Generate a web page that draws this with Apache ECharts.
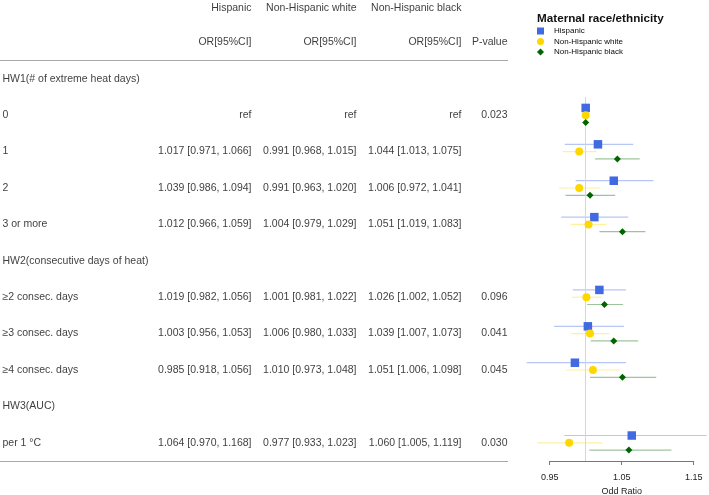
<!DOCTYPE html>
<html><head><meta charset="utf-8">
<script src="https://cdn.jsdelivr.net/npm/echarts@6/dist/echarts.min.js"></script>
<style>html,body{margin:0;padding:0;background:#fff}#c{width:709px;height:495px}</style>
</head><body><div id="c"></div>
<script>
// ---------- data ----------
const rowLabels = ["HW1(# of extreme heat days)", "0", "1", "2", "3 or more",
  "HW2(consecutive days of heat)", "\u22652 consec. days", "\u22653 consec. days", "\u22654 consec. days",
  "HW3(AUC)", "per 1 \u00b0C"];
const groups = ["Hispanic", "Non-Hispanic white", "Non-Hispanic black"];
const hispanicOR = [null, 1, 1.017, 1.039, 1.012, null, 1.019, 1.003, 0.985, null, 1.064];
const hispanicLo = [null, null, 0.971, 0.986, 0.966, null, 0.982, 0.956, 0.918, null, 0.970];
const hispanicHi = [null, null, 1.066, 1.094, 1.059, null, 1.056, 1.053, 1.056, null, 1.168];
const whiteOR = [null, 1, 0.991, 0.991, 1.004, null, 1.001, 1.006, 1.010, null, 0.977];
const whiteLo = [null, null, 0.968, 0.963, 0.979, null, 0.981, 0.980, 0.973, null, 0.933];
const whiteHi = [null, null, 1.015, 1.020, 1.029, null, 1.022, 1.033, 1.048, null, 1.023];
const blackOR = [null, 1, 1.044, 1.006, 1.051, null, 1.026, 1.039, 1.051, null, 1.060];
const blackLo = [null, null, 1.013, 0.972, 1.019, null, 1.002, 1.007, 1.006, null, 1.005];
const blackHi = [null, null, 1.075, 1.041, 1.083, null, 1.052, 1.073, 1.098, null, 1.119];
const pValues = ["", "0.023", "", "", "", "", "0.096", "0.041", "0.045", "", "0.030"];
const xTickValues = [0.95, 1.05, 1.15];
const colHeader = "OR[95%CI]";
const pHeader = "P-value";
const legendTitle = "Maternal race/ethnicity";
const axisName = "Odd Ratio";

// ---------- styling / layout ----------
const FONT = '"Liberation Sans", Arial, Helvetica, sans-serif';
const TEXT = '#0a0a0a';
const COLORS = ['#4169E1', '#FFD700', '#006400'];
const CI_COLORS = ['rgba(65,105,225,0.38)', 'rgba(255,215,0,0.38)', 'rgba(0,100,0,0.38)'];
const SYMBOLS = ['rect', 'circle', 'diamond'];
const SYM_SIZE = [8.5, 8, 7];
const OFFSETS = [-0.2, 0, 0.2];
const COL_RIGHT = [252, 357, 462];
const P_RIGHT = 508;
const LABEL_LEFT = 2;
const HEADER_ROWS = [-1.94, -1];
const Y_MIN = -2.165, Y_MAX = 10.5;

const ORs = [hispanicOR, whiteOR, blackOR];
const LOs = [hispanicLo, whiteLo, blackLo];
const HIs = [hispanicHi, whiteHi, blackHi];

// ---------- table cells ----------
function cell(x, r, text, align) {
  return { value: [x, r], label: { formatter: text, position: align === 'left' ? 'right' : 'left' } };
}
const cells = [];
groups.forEach((g, i) => cells.push(cell(COL_RIGHT[i], HEADER_ROWS[0], g)));
groups.forEach((g, i) => cells.push(cell(COL_RIGHT[i], HEADER_ROWS[1], colHeader)));
cells.push(cell(P_RIGHT, HEADER_ROWS[1], pHeader));
rowLabels.forEach((lab, r) => {
  cells.push(cell(LABEL_LEFT, r, lab, 'left'));
  for (let g = 0; g < 3; g++) {
    const o = ORs[g][r];
    if (o == null) continue;
    const lo = LOs[g][r], hi = HIs[g][r];
    const t = lo == null ? 'ref' : o.toFixed(3) + ' [' + lo.toFixed(3) + ', ' + hi.toFixed(3) + ']';
    cells.push(cell(COL_RIGHT[g], r, t));
  }
  if (pValues[r]) cells.push(cell(P_RIGHT, r, pValues[r]));
});

// ---------- forest series ----------
const series = [];
for (let g = 0; g < 3; g++) {
  const ci = [];
  const pts = [];
  ORs[g].forEach((o, r) => {
    if (o == null) return;
    pts.push([o, r + OFFSETS[g]]);
    if (LOs[g][r] != null) ci.push([LOs[g][r], HIs[g][r], r + OFFSETS[g]]);
  });
  const col = CI_COLORS[g];
  series.push({
    type: 'custom', name: 'ci' + g, xAxisIndex: 0, yAxisIndex: 0, clip: false, silent: true, z: 2,
    encode: { x: [0, 1], y: 2 },
    data: ci,
    renderItem: function (params, api) {
      const a = api.coord([api.value(0), api.value(2)]);
      const b = api.coord([api.value(1), api.value(2)]);
      return { type: 'line', shape: { x1: a[0], y1: a[1], x2: b[0], y2: b[1] },
        style: { stroke: col, lineWidth: 1.2 } };
    }
  });
  series.push({
    type: 'scatter', name: groups[g], xAxisIndex: 0, yAxisIndex: 0, clip: false, silent: true, z: 5,
    symbol: SYMBOLS[g], symbolSize: SYM_SIZE[g],
    itemStyle: { color: COLORS[g], opacity: 1 },
    data: pts
  });
}
// reference line at OR = 1
series.push({
  type: 'scatter', name: 'refline', xAxisIndex: 0, yAxisIndex: 0, data: [], silent: true,
  markLine: {
    silent: true, symbol: 'none', animation: false, label: { show: false },
    lineStyle: { color: '#d6d6d6', width: 1, type: 'solid' },
    data: [[{ coord: [1, 0.5] }, { coord: [1, Y_MAX] }]]
  }
});
// table
series.push({
  type: 'scatter', name: 'table', xAxisIndex: 1, yAxisIndex: 1, silent: true, symbolSize: 1,
  itemStyle: { color: 'rgba(0,0,0,0)' },
  label: { show: true, distance: 0, color: TEXT, fontSize: 10.5, fontFamily: FONT },
  labelLayout: { hideOverlap: false },
  data: cells,
  markLine: {
    silent: true, symbol: 'none', animation: false, label: { show: false },
    lineStyle: { color: '#a8a8a8', width: 1, type: 'solid' },
    data: [
      [{ coord: [0, -0.5] }, { coord: [P_RIGHT, -0.5] }],
      [{ coord: [0, Y_MAX] }, { coord: [P_RIGHT, Y_MAX] }]
    ]
  }
});

const option = {
  animation: false,
  backgroundColor: '#fff',
  textStyle: { fontFamily: FONT },
  title: {
    text: legendTitle, left: 537, top: 13, padding: 0,
    textStyle: { fontSize: 11.7, fontWeight: 'bold', color: '#111', fontFamily: FONT }
  },
  legend: {
    orient: 'vertical', left: 537, top: 27, padding: 0, itemGap: 2.5,
    itemWidth: 7, itemHeight: 7, selectedMode: false,
    textStyle: { fontSize: 8, color: TEXT, fontFamily: FONT, padding: [0, 0, 0, 5] },
    data: groups.map((g, i) => ({ name: g, icon: SYMBOLS[i], itemStyle: { color: COLORS[i] } }))
  },
  grid: [
    { left: 549.7, right: 15.3, top: 0, bottom: 34, outerBoundsMode: 'none' },
    { left: 0, right: 0, top: 0, bottom: 34, outerBoundsMode: 'none' }
  ],
  xAxis: [
    {
      type: 'value', gridIndex: 0, min: xTickValues[0], max: xTickValues[xTickValues.length - 1], interval: 0.1,
      splitLine: { show: false },
      axisLine: { show: true, onZero: false, lineStyle: { color: '#777', width: 1 } },
      axisTick: { show: true, length: 4, lineStyle: { color: '#777' } },
      axisLabel: { fontSize: 9, color: '#222', margin: 12, fontFamily: FONT,
        formatter: v => v.toFixed(2) },
      name: axisName, nameLocation: 'middle', nameGap: 21.5,
      nameTextStyle: { fontSize: 9, color: '#222', fontFamily: FONT }
    },
    { type: 'value', gridIndex: 1, min: 0, max: 709, show: false }
  ],
  yAxis: [
    { type: 'value', gridIndex: 0, min: Y_MIN, max: Y_MAX, inverse: true, show: false },
    { type: 'value', gridIndex: 1, min: Y_MIN, max: Y_MAX, inverse: true, show: false }
  ],
  series: series
};
const chart = echarts.init(document.getElementById('c'), null, { renderer: 'canvas' });
chart.setOption(option);
</script>
</body></html>
